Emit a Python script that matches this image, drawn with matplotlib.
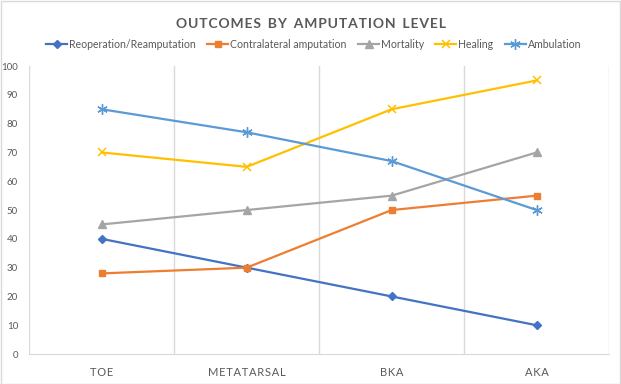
import matplotlib.pyplot as plt
import numpy as np

# data
levels = ['TOE', 'METATARSAL', 'BKA', 'AKA']
reoperation = [40, 30, 20, 10]
contralateral = [28, 30, 50, 55]
mortality = [45, 50, 55, 70]
healing = [70, 65, 85, 95]
ambulation = [85, 77, 67, 50]

plt.rcParams['font.family'] = ['Lato', 'DejaVu Sans']
grey = '#595959'
grid_c = '#D9D9D9'


def spaced(s):
    # loose letter spacing like the Excel style
    return '\u200a'.join(s).replace('\u200a \u200a', '  ')


fig = plt.figure(figsize=(6.21, 3.84), dpi=100)
ax = fig.add_axes([0.047, 0.078, 0.934, 0.75])

x = np.arange(len(levels))
ax.plot(x, reoperation, color='#4472C4', lw=1.6, marker='D', ms=4, label='Reoperation/Reamputation')
ax.plot(x, contralateral, color='#ED7D31', lw=1.6, marker='s', ms=5, label='Contralateral amputation')
ax.plot(x, mortality, color='#A5A5A5', lw=1.6, marker='^', ms=5.5, label='Mortality')
ax.plot(x, healing, color='#FFC000', lw=1.6, marker='x', ms=6, mew=1.1, label='Healing')
ax.plot(x, ambulation, color='#5B9BD5', lw=1.6, marker=(6, 2, 0), ms=7.5, mew=1.0, label='Ambulation')

# vertical category separators
for b in np.arange(-0.5, len(levels), 1.0):
    ax.axvline(b, color=grid_c, lw=1, zorder=0)

ax.set_xlim(-0.5, len(levels) - 0.5)
ax.set_ylim(0, 100)
ax.set_yticks(range(0, 101, 10))
ax.set_xticks(x)
ax.set_xticklabels([spaced(l) for l in levels])
ax.tick_params(axis='both', length=0, colors=grey)
ax.tick_params(axis='x', pad=9, labelsize=8)
ax.tick_params(axis='y', pad=8, labelsize=7)
for s in ['top', 'right', 'left']:
    ax.spines[s].set_visible(False)
ax.spines['bottom'].set_color(grid_c)

fig.text(0.5, 0.937, spaced('OUTCOMES BY AMPUTATION LEVEL'),
         ha='center', va='center', fontsize=10, fontweight='bold', color=grey)
fig.legend(loc='center', bbox_to_anchor=(0.505, 0.885), ncol=5, frameon=False,
           fontsize=7.6, labelcolor=grey, handlelength=2.0, handletextpad=0.15,
           columnspacing=1.1)

fig.patches.append(plt.Rectangle((0.001, 0.001), 0.997, 0.997, transform=fig.transFigure,
                                 fill=False, edgecolor=grid_c, lw=1))
plt.savefig('out.png', dpi=100)
